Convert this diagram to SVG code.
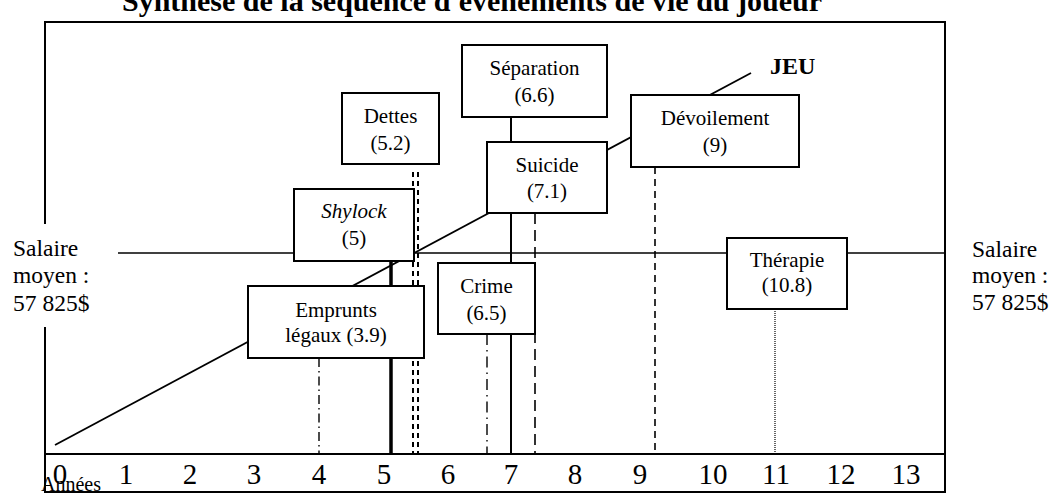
<svg xmlns="http://www.w3.org/2000/svg" width="1052" height="494" viewBox="0 0 1052 494">
<style>
  text { font-family: "Liberation Serif", "Times New Roman", serif; fill: #000; }
  .title { font-size: 30px; font-weight: bold; }
  .lbl { font-size: 21px; text-anchor: middle; }
  .sal { font-size: 23.5px; }
  .num { font-size: 29px; text-anchor: middle; }
  .box { fill: #fff; stroke: #000; stroke-width: 2; }
  .ln { stroke: #000; fill: none; }
</style>
<rect width="1052" height="494" fill="#fff"/>
<text class="title" x="472" y="11" text-anchor="middle">Synthèse de la séquence d'événements de vie du joueur</text>

<g id="frame">
  <line class="ln" stroke-width="2" x1="44" y1="22" x2="946" y2="22"/>
  <line class="ln" stroke-width="2" x1="945" y1="21" x2="945" y2="493"/>
  <line class="ln" stroke-width="2" x1="45" y1="21" x2="45" y2="224"/>
  <line class="ln" stroke-width="2" x1="45" y1="327" x2="45" y2="493"/>
  <line class="ln" stroke-width="2" x1="44" y1="492" x2="946" y2="492"/>
  <line class="ln" stroke-width="2" x1="44" y1="454" x2="946" y2="454"/>
</g>

<g id="connectors">
  <line id="salary" class="ln" stroke-width="1.6" x1="118" y1="253" x2="945" y2="253"/>
  <line id="jeu-line" class="ln" stroke-width="1.8" x1="55" y1="445" x2="751" y2="73"/>
  <line class="ln" stroke-width="1.4" x1="319" y1="358" x2="319" y2="454" stroke-dasharray="9 4 1.5 4"/>
  <line class="ln" stroke-width="3.5" x1="391" y1="261" x2="391" y2="454"/>
  <line class="ln" stroke-width="2" x1="413" y1="172" x2="413" y2="454" stroke-dasharray="5 4"/>
  <line class="ln" stroke-width="2" x1="418" y1="172" x2="418" y2="454" stroke-dasharray="5 4"/>
  <line class="ln" stroke-width="1.4" x1="487" y1="334" x2="487" y2="454" stroke-dasharray="11 5 1.5 5"/>
  <line class="ln" stroke-width="2" x1="511" y1="117" x2="511" y2="454"/>
  <line class="ln" stroke-width="1.6" x1="535" y1="213" x2="535" y2="454" stroke-dasharray="11 6"/>
  <line class="ln" stroke-width="1.6" x1="655" y1="167" x2="655" y2="454" stroke-dasharray="7 5"/>
  <line class="ln" stroke-width="1.2" x1="775" y1="309" x2="775" y2="454" stroke-dasharray="1 1"/>
</g>

<g id="jeu"><text x="770" y="74" style="font-size:24px;font-weight:bold">JEU</text></g>

<g id="dettes">
  <rect class="box" x="342" y="93" width="97" height="71"/>
  <text class="lbl" x="390.5" y="123">Dettes</text>
  <text class="lbl" x="390.5" y="150">(5.2)</text>
</g>
<g id="shylock">
  <rect class="box" x="294" y="189" width="120" height="72"/>
  <text class="lbl" x="354" y="218" font-style="italic">Shylock</text>
  <text class="lbl" x="354" y="245">(5)</text>
</g>
<g id="emprunts">
  <rect class="box" x="248" y="286" width="176" height="72"/>
  <text class="lbl" x="336" y="317">Emprunts</text>
  <text class="lbl" x="336" y="342">légaux (3.9)</text>
</g>
<g id="separation">
  <rect class="box" x="462" y="45" width="145" height="72"/>
  <text class="lbl" x="534.5" y="75">Séparation</text>
  <text class="lbl" x="534.5" y="102">(6.6)</text>
</g>
<g id="suicide">
  <rect class="box" x="487" y="142" width="120" height="71"/>
  <text class="lbl" x="547" y="172">Suicide</text>
  <text class="lbl" x="547" y="198">(7.1)</text>
</g>
<g id="crime">
  <rect class="box" x="438" y="263" width="97" height="71"/>
  <text class="lbl" x="486.5" y="293">Crime</text>
  <text class="lbl" x="486.5" y="320">(6.5)</text>
</g>
<g id="devoilement">
  <rect class="box" x="631" y="95" width="168" height="72"/>
  <text class="lbl" x="715" y="125">Dévoilement</text>
  <text class="lbl" x="715" y="152">(9)</text>
</g>
<g id="therapie">
  <rect class="box" x="727" y="238" width="120" height="71"/>
  <text class="lbl" x="787" y="267">Thérapie</text>
  <text class="lbl" x="787" y="292">(10.8)</text>
</g>

<g id="salaire-gauche">
  <text class="sal" x="13" y="256">Salaire</text>
  <text class="sal" x="13" y="283">moyen :</text>
  <text class="sal" x="13" y="311">57 825$</text>
</g>
<g id="salaire-droite">
  <text class="sal" x="972" y="257">Salaire</text>
  <text class="sal" x="972" y="283">moyen :</text>
  <text class="sal" x="972" y="310">57 825$</text>
</g>

<g id="axe">
  <text class="num" x="60" y="484">0</text>
  <text class="num" x="126" y="484">1</text>
  <text class="num" x="190" y="484">2</text>
  <text class="num" x="254" y="484">3</text>
  <text class="num" x="319" y="484">4</text>
  <text class="num" x="384" y="484">5</text>
  <text class="num" x="448" y="484">6</text>
  <text class="num" x="511" y="484">7</text>
  <text class="num" x="575" y="484">8</text>
  <text class="num" x="640" y="484">9</text>
  <text class="num" x="713" y="484">10</text>
  <text class="num" x="776" y="484">11</text>
  <text class="num" x="841" y="484">12</text>
  <text class="num" x="906" y="484">13</text>
  <text x="41" y="491" style="font-size:20px">Années</text>
</g>
</svg>
